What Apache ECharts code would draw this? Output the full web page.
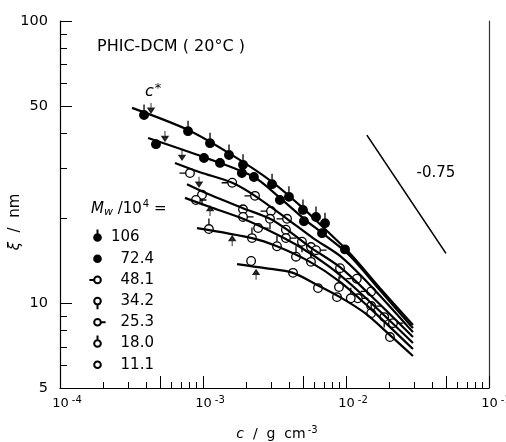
<!DOCTYPE html>
<html>
<head>
<meta charset="utf-8">
<script src="https://cdn.jsdelivr.net/npm/echarts@6/dist/echarts.min.js"></script>
<style>
  html, body { margin: 0; padding: 0; background: #fff; }
  #chart { width: 506px; height: 442px; }
</style>
</head>
<body>
<div id="chart"></div>
<script>
// molecular weights (Mw / 10^4), legend order
const mwNames = ['106', '72.4', '48.1', '34.2', '25.3', '18.0', '11.1'];

// measured points [c (g/cm3), xi (nm)]
const pts106 = [[3.87e-4, 46.4], [7.86e-4, 40.7], [1.12e-3, 36.9], [1.52e-3, 33.5], [1.905e-3, 30.9], [3.04e-3, 26.4], [3.99e-3, 23.8], [5.00e-3, 21.4], [6.17e-3, 20.2], [7.13e-3, 19.2]];
const pts72 = [[4.69e-4, 36.6], [1.016e-3, 32.7], [1.315e-3, 31.4], [1.87e-3, 28.9], [2.27e-3, 28.0], [3.45e-3, 23.2], [5.08e-3, 19.5], [6.80e-3, 17.7], [9.84e-3, 15.5]];
const pts48 = [[8.11e-4, 28.9], [1.60e-3, 26.7], [2.31e-3, 24.0], [2.99e-3, 21.2], [3.87e-3, 19.9], [1.19e-2, 12.2], [1.50e-2, 11.0]];
const pts34 = [[9.84e-4, 24.2], [1.905e-3, 21.5], [2.94e-3, 19.9], [3.80e-3, 18.2], [4.92e-3, 16.5], [5.69e-3, 15.8], [9.08e-3, 13.3], [1.85e-2, 8.92]];
const pts25 = [[8.93e-4, 23.2], [1.905e-3, 20.2], [2.43e-3, 18.45], [3.80e-3, 17.0], [6.17e-3, 15.4], [1.21e-2, 10.4], [1.50e-2, 9.76], [2.13e-2, 8.49]];
const pts18 = [[1.10e-3, 18.3], [2.20e-3, 17.0], [3.29e-3, 15.9], [4.47e-3, 14.6], [5.69e-3, 14.0], [8.93e-3, 11.4], [1.08e-2, 10.4], [1.50e-2, 9.21]];
const pts11 = [[2.17e-3, 14.1], [4.26e-3, 12.8], [6.37e-3, 11.3], [8.65e-3, 10.5], [2.03e-2, 7.58]];

// fitted curves
const fit106 = [[3.19e-4, 49.2], [7.86e-4, 41.1], [1.52e-3, 34.0], [3.04e-3, 26.9], [5.00e-3, 21.7], [7.13e-3, 18.3], [1.067e-2, 15.0], [1.73e-2, 11.3], [2.94e-2, 8.36]];
const fit72 = [[4.13e-4, 38.5], [1.016e-3, 32.9], [2.27e-3, 28.0], [3.45e-3, 23.6], [5.08e-3, 19.9], [7.13e-3, 17.4], [1.067e-2, 14.7], [1.73e-2, 11.1], [2.94e-2, 8.15]];
const fit48 = [[6.37e-4, 31.4], [9.53e-4, 29.1], [1.60e-3, 26.7], [2.31e-3, 24.0], [3.87e-3, 19.9], [5.88e-3, 17.0], [9.08e-3, 14.7], [1.47e-2, 11.6], [2.94e-2, 7.89]];
const fit34 = [[7.73e-4, 26.4], [1.12e-3, 24.2], [1.905e-3, 21.7], [2.94e-3, 19.9], [3.87e-3, 18.2], [5.60e-3, 15.8], [9.08e-3, 13.4], [1.47e-2, 10.7], [2.94e-2, 7.58]];
const fit25 = [[7.48e-4, 23.6], [1.12e-3, 21.9], [1.905e-3, 19.9], [2.94e-3, 18.0], [4.77e-3, 15.8], [7.73e-3, 13.4], [1.25e-2, 10.9], [2.94e-2, 7.22]];
const fit18 = [[9.08e-4, 18.45], [2.20e-3, 17.0], [3.29e-3, 15.9], [5.60e-3, 14.0], [9.08e-3, 11.9], [1.47e-2, 9.60], [2.94e-2, 6.87]];
const fit11 = [[1.73e-3, 13.75], [2.72e-3, 13.3], [4.26e-3, 12.8], [6.27e-3, 11.6], [9.08e-3, 10.5], [1.36e-2, 9.21], [2.03e-2, 7.70], [2.94e-2, 6.49]];

// c* arrows
const cStarDown = [[4.33e-4, 49.2], [5.42e-4, 39.1], [7.13e-4, 33.5], [9.38e-4, 26.9]];
const cStarUp = [[1.12e-3, 21.2], [1.60e-3, 16.6], [2.35e-3, 12.6]];

// reference slope -0.75
const slopeLine = [[1.40e-2, 39.4], [5.0e-2, 15.0]];

// axis ticks
const xTickLabels = [1e-4, 1e-3, 1e-2, 1e-1];
const xTicksMajor = [1e-4, 5e-4, 1e-3, 5e-3, 1e-2, 5e-2, 1e-1];
const xTicksMinor = [2e-4, 3e-4, 4e-4, 6e-4, 7e-4, 8e-4, 9e-4, 2e-3, 3e-3, 4e-3, 6e-3, 7e-3, 8e-3, 9e-3, 2e-2, 3e-2, 4e-2, 6e-2, 7e-2, 8e-2, 9e-2];
const yTickLabels = [5, 10, 50, 100];
const yTicksMajor = [5, 10, 50, 100];
const yTicksMinor = [6, 7, 8, 9, 20, 30, 40, 60, 70, 80, 90];

const FONT = '"DejaVu Sans", sans-serif';

// symbols drawn in a 22x22 box so the circle stays centred on the point
const PAD = 'M0 0 M22 22 ';
const CIRC = 'M15.3 11 A4.3 4.3 0 0 1 6.7 11 A4.3 4.3 0 0 1 15.3 11 Z';
const symUp = 'path://' + PAD + 'M11 6.7 L11 0.5 ' + CIRC;
const symDown = 'path://' + PAD + 'M11 15.3 L11 21.5 ' + CIRC;
const symLeft = 'path://' + PAD + 'M6.7 11 L0.5 11 ' + CIRC;
const symRight = 'path://' + PAD + 'M15.3 11 L21.5 11 ' + CIRC;
const symPlain = 'path://' + PAD + CIRC;

const arrowDown = 'path://M3 0 L3 6 M0 5.5 L3 10 L6 5.5 Z';
const arrowUp = 'path://M0 4.5 L3 0 L6 4.5 Z M3 4 L3 10';

const markerDefs = [
  { name: mwNames[0], data: pts106, symbol: symUp, filled: true },
  { name: mwNames[1], data: pts72, symbol: symPlain, filled: true },
  { name: mwNames[2], data: pts48, symbol: symLeft, filled: false },
  { name: mwNames[3], data: pts34, symbol: symDown, filled: false },
  { name: mwNames[4], data: pts25, symbol: symRight, filled: false },
  { name: mwNames[5], data: pts18, symbol: symUp, filled: false },
  { name: mwNames[6], data: pts11, symbol: symPlain, filled: false }
];
const fits = [fit106, fit72, fit48, fit34, fit25, fit18, fit11];

const chart = echarts.init(document.getElementById('chart'));

const series = [];
fits.forEach((f, i) => {
  series.push({
    name: 'fit ' + mwNames[i],
    type: 'line',
    data: f,
    smooth: 0.3,
    showSymbol: false,
    silent: true,
    lineStyle: { color: '#000', width: 2.2 }
  });
});
series.push({
  name: 'slope',
  type: 'line',
  data: slopeLine,
  showSymbol: false,
  silent: true,
  lineStyle: { color: '#000', width: 1.6 }
});
markerDefs.forEach(m => {
  series.push({
    name: m.name,
    type: 'scatter',
    data: m.data,
    symbol: m.symbol,
    symbolSize: 22,
    silent: true,
    itemStyle: {
      color: m.filled ? '#000' : '#fff',
      borderColor: '#000',
      borderWidth: 1.3,
      opacity: 1
    }
  });
});
series.push({
  name: 'cstar down', type: 'scatter', data: cStarDown, symbol: arrowDown,
  symbolSize: [6, 10], silent: true,
  itemStyle: { color: '#000', borderColor: '#000', borderWidth: 1.3 }
});
series.push({
  name: 'cstar up', type: 'scatter', data: cStarUp, symbol: arrowUp,
  symbolSize: [6, 10], silent: true,
  itemStyle: { color: '#000', borderColor: '#000', borderWidth: 1.3 }
});

const option = {
  animation: false,
  backgroundColor: '#fff',
  grid: { left: 60, top: 21, right: 17, bottom: 54, outerBoundsMode: 'none', containLabel: false },
  legend: {
    data: mwNames,
    orient: 'vertical',
    left: 88,
    top: 228,
    padding: 0,
    itemWidth: 17,
    itemHeight: 17,
    itemGap: 2.2,
    selectedMode: false,
    textStyle: { color: '#000', fontFamily: FONT, fontSize: 15 },
    // pad the integer part with figure spaces so the decimal points line up
    formatter: name => {
      const parts = name.split('.');
      let whole = parts[0];
      while (whole.length < 3) whole = '\u2007' + whole;
      return whole + (parts[1] ? '.' + parts[1] : '');
    }
  },
  xAxis: [
    {
      type: 'log', logBase: 10, min: 1e-4, max: 1e-1, position: 'bottom',
      axisLine: { show: true, onZero: false, lineStyle: { color: '#000', width: 1.2 } },
      axisTick: { show: true, inside: true, length: 12, customValues: xTicksMajor, lineStyle: { color: '#000', width: 1 } },
      splitLine: { show: false },
      minorTick: { show: false },
      axisLabel: {
        customValues: xTickLabels,
        margin: 7,
        formatter: v => '{p|}{b|10}{s|' + Math.round(Math.log10(v)) + '}',
        rich: {
          p: { width: 14 },
          b: { fontFamily: FONT, fontSize: 13, color: '#000' },
          s: { fontFamily: FONT, fontSize: 10, color: '#000', padding: [0, 0, 8, 3] }
        }
      }
    },
    {
      type: 'log', logBase: 10, min: 1e-4, max: 1e-1, position: 'bottom',
      axisLine: { show: false, onZero: false },
      axisTick: { show: true, inside: true, length: 6, customValues: xTicksMinor, lineStyle: { color: '#000', width: 1 } },
      axisLabel: { show: false },
      splitLine: { show: false }
    }
  ],
  yAxis: [
    {
      type: 'log', logBase: 10, min: 5, max: 100, position: 'left',
      axisLine: { show: true, onZero: false, lineStyle: { color: '#000', width: 1.2 } },
      axisTick: { show: true, inside: true, length: 12, customValues: yTicksMajor, lineStyle: { color: '#000', width: 1 } },
      splitLine: { show: false },
      minorTick: { show: false },
      axisLabel: {
        customValues: yTickLabels,
        margin: 12,
        color: '#000',
        fontFamily: FONT,
        fontSize: 14.5,
        formatter: v => String(Math.round(v))
      }
    },
    {
      type: 'log', logBase: 10, min: 5, max: 100, position: 'left',
      axisLine: { show: false, onZero: false },
      axisTick: { show: true, inside: true, length: 7, customValues: yTicksMinor, lineStyle: { color: '#000', width: 1 } },
      axisLabel: { show: false },
      splitLine: { show: false }
    },
    {
      type: 'log', logBase: 10, min: 5, max: 100, position: 'right',
      axisLine: { show: true, onZero: false, lineStyle: { color: '#333', width: 1.2 } },
      axisTick: { show: false },
      axisLabel: { show: false },
      splitLine: { show: false }
    }
  ],
  graphic: [
    {
      type: 'text', x: 97, y: 47,
      style: { text: 'PHIC-DCM ( 20°C )', font: '16px ' + FONT, fill: '#000', textVerticalAlign: 'middle' }
    },
    {
      type: 'text', x: 145, y: 92,
      style: {
        text: '{c|c}{s|*}', textVerticalAlign: 'middle',
        rich: {
          c: { font: 'italic 16px ' + FONT, fill: '#000' },
          s: { font: '13px ' + FONT, fill: '#000', padding: [0, 0, 6, 1] }
        }
      }
    },
    {
      type: 'text', x: 436, y: 173,
      style: { text: '-0.75', font: '15px ' + FONT, fill: '#000', textAlign: 'center', textVerticalAlign: 'middle' }
    },
    {
      type: 'text', x: 91, y: 209,
      style: {
        text: '{m|M}{w|w}{n| /10}{s|4}{n| =}', textVerticalAlign: 'middle',
        rich: {
          m: { font: 'italic 15px ' + FONT, fill: '#000' },
          w: { font: 'italic 11px ' + FONT, fill: '#000', padding: [7, 0, 0, 0] },
          n: { font: '15px ' + FONT, fill: '#000' },
          s: { font: '10px ' + FONT, fill: '#000', padding: [0, 0, 9, 1] }
        }
      }
    },
    {
      type: 'text', x: 277, y: 434,
      style: {
        text: '{i|c}{n|  /  g  cm}{s|-3}', textAlign: 'center', textVerticalAlign: 'middle',
        rich: {
          i: { font: 'italic 14px ' + FONT, fill: '#000' },
          n: { font: '14px ' + FONT, fill: '#000' },
          s: { font: '10px ' + FONT, fill: '#000', padding: [0, 0, 8, 2] }
        }
      }
    },
    {
      type: 'text', x: 15, y: 222, rotation: Math.PI / 2,
      style: {
        text: '{x|ξ}{n|  /  nm}', textAlign: 'center', textVerticalAlign: 'middle',
        rich: {
          x: { font: 'italic 15px ' + FONT, fill: '#000' },
          n: { font: '15px ' + FONT, fill: '#000' }
        }
      }
    }
  ],
  series: series
};

chart.setOption(option);
</script>
</body>
</html>
